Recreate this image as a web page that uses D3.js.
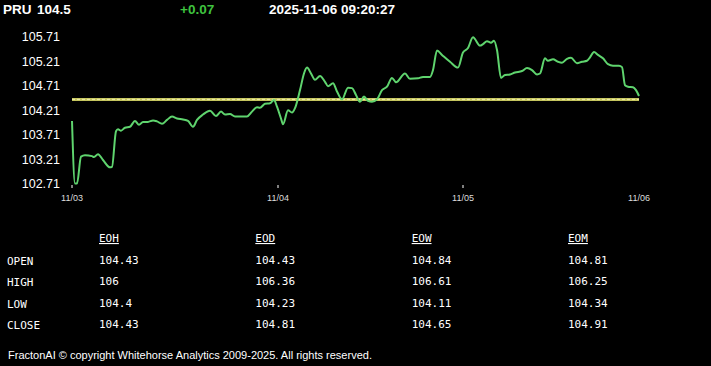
<!DOCTYPE html>
<html>
<head>
<meta charset="utf-8">
<script src="https://cdn.jsdelivr.net/npm/d3@7"></script>
<style>
  html, body { margin: 0; padding: 0; background: #000; }
  svg { display: block; }
</style>
</head>
<body>
<div id="chart"></div>
<script>
// header
const symbol = "PRU";
const lastPrice = "104.5";
const change = "+0.07";
const stamp = "2025-11-06 09:20:27";
const prevClose = 104.43;

// intraday samples (sample number, price)
const sampleIdx = [
  0, 3, 5, 9, 13, 20, 22, 26, 31, 38, 40, 44, 46, 49, 53, 58, 63, 67, 71, 76,
  81, 85, 90, 95, 100, 105, 111, 116, 121, 125, 131, 138, 144, 149, 153, 158, 163, 170, 175, 180,
  185, 188, 193, 198, 202, 205, 209, 211, 216, 220, 223, 228, 232, 235, 239, 243, 248, 253, 256, 261,
  265, 270, 276, 280, 284, 288, 292, 296, 300, 305, 310, 315, 320, 324, 333, 338, 346, 351, 358, 361,
  365, 370, 378, 386, 391, 396, 401, 408, 411, 415, 419, 422, 425, 429, 433, 438, 443, 450, 455, 460,
  465, 468, 473, 476, 481, 486, 490, 495, 499, 505, 510, 515, 518, 522, 526, 531, 536, 541, 547, 550,
  553, 556, 561, 564, 567
];
const prices = [
  103.99, 102.71, 102.71, 103.26, 103.29, 103.27, 103.25, 103.31, 103.19, 103.04, 103.05, 103.78, 103.82, 103.79, 103.85, 103.87, 103.99, 103.91, 103.97, 103.97,
  104.00, 103.98, 103.93, 104.01, 104.08, 104.04, 104.02, 103.99, 103.87, 104.01, 104.12, 104.20, 104.09, 104.18, 104.12, 104.13, 104.08, 104.08, 104.08, 104.18,
  104.27, 104.26, 104.34, 104.35, 104.42, 104.28, 104.04, 103.92, 104.21, 104.16, 104.25, 104.62, 104.96, 105.08, 104.96, 104.83, 104.91, 104.79, 104.70, 104.76,
  104.59, 104.43, 104.67, 104.66, 104.52, 104.38, 104.49, 104.40, 104.38, 104.43, 104.62, 104.69, 104.87, 104.78, 104.96, 104.85, 104.86, 104.89, 104.89, 105.03,
  105.43, 105.34, 105.20, 105.08, 105.39, 105.48, 105.70, 105.53, 105.56, 105.62, 105.59, 105.63, 105.44, 104.87, 104.93, 104.94, 104.98, 105.01, 105.07, 105.03,
  104.94, 104.96, 105.27, 105.22, 105.25, 105.20, 105.18, 105.26, 105.28, 105.17, 105.20, 105.22, 105.29, 105.40, 105.34, 105.27, 105.15, 105.12, 105.12, 105.09,
  104.72, 104.69, 104.68, 104.62, 104.50
];

// day labels on the x axis
const dayLabels = ["11/03", "11/04", "11/05", "11/06"];
const dayIdx = [0, 206, 391, 567];

// y tick labels
const yTicks = [102.71, 103.21, 103.71, 104.21, 104.71, 105.21, 105.71];

// summary table
const tableCols = ["EOH", "EOD", "EOW", "EOM"];
const tableRows = ["OPEN", "HIGH", "LOW", "CLOSE"];
const tableVals = [
  ["104.43", "104.43", "104.84", "104.81"],
  ["106", "106.36", "106.61", "106.25"],
  ["104.4", "104.23", "104.11", "104.34"],
  ["104.43", "104.81", "104.65", "104.91"]
];

const footer = "FractonAI \u00a9 copyright Whitehorse Analytics 2009-2025. All rights reserved.";

const width = 711, height = 366;
const svg = d3.select("#chart").append("svg")
  .attr("width", width)
  .attr("height", height)
  .style("background", "#000");

// header line
const head = svg.append("g")
  .attr("font-family", "'Liberation Sans Narrow', 'Arial Narrow', Arial, sans-serif")
  .attr("font-weight", "bold")
  .attr("font-size", 13.5);
head.append("text").attr("x", 3).attr("y", 14).attr("fill", "#fff").text(symbol);
head.append("text").attr("x", 37).attr("y", 14).attr("fill", "#fff").text(lastPrice);
head.append("text").attr("x", 180).attr("y", 14).attr("fill", "#3fc33f").text(change);
head.append("text").attr("x", 269).attr("y", 14).attr("fill", "#fff").text(stamp);

// scales
const x = d3.scaleLinear().domain([0, 567]).range([72, 639]);
const y = d3.scaleLinear().domain([102.71, 105.71]).range([183.5, 36.8]);

// y labels
svg.append("g")
  .selectAll("text")
  .data(yTicks)
  .join("text")
  .attr("x", 60)
  .attr("y", d => y(d))
  .attr("dy", "0.36em")
  .attr("text-anchor", "end")
  .attr("fill", "#fff")
  .attr("font-family", "Arial, 'Liberation Sans', sans-serif")
  .attr("font-size", 12.5)
  .text(d => d.toFixed(2));

// x ticks + labels
const xa = svg.append("g");
xa.selectAll("line")
  .data(dayIdx.slice(0, 3))
  .join("line")
  .attr("x1", d => x(d)).attr("x2", d => x(d))
  .attr("y1", 185).attr("y2", 188)
  .attr("stroke", "#fff")
  .attr("stroke-width", 1);
xa.selectAll("text")
  .data(dayIdx)
  .join("text")
  .attr("x", d => x(d))
  .attr("y", 201)
  .attr("text-anchor", "middle")
  .attr("fill", "#ddd")
  .attr("font-family", "Arial, 'Liberation Sans', sans-serif")
  .attr("font-size", 9)
  .text((d, i) => dayLabels[i]);

// previous close line
svg.append("line")
  .attr("x1", x(0)).attr("x2", x(567))
  .attr("y1", y(prevClose)).attr("y2", y(prevClose))
  .attr("stroke", "#c4c45e")
  .attr("stroke-width", 3);
svg.append("line")
  .attr("x1", x(0)).attr("x2", x(567))
  .attr("y1", y(prevClose)).attr("y2", y(prevClose))
  .attr("stroke", "#eeeeaa")
  .attr("stroke-width", 1)
  .attr("stroke-dasharray", "3,2");

// price line
const pts = sampleIdx.map((t, i) => [t, prices[i]]);
svg.append("path")
  .datum(pts)
  .attr("fill", "none")
  .attr("stroke", "#5fd46e")
  .attr("stroke-width", 2)
  .attr("stroke-linejoin", "round")
  .attr("d", d3.line()
    .x(d => x(d[0]))
    .y(d => y(d[1]))
    .curve(d3.curveMonotoneX));

// table
const colX = d3.scalePoint().domain(tableCols).range([99, 568]);
const rowY = d3.scalePoint().domain(["head"].concat(tableRows)).range([242, 328]);
const tbl = svg.append("g")
  .attr("font-family", "'DejaVu Sans Mono', monospace")
  .attr("font-size", 11)
  .attr("fill", "#fff");

tbl.selectAll(".colhead")
  .data(tableCols)
  .join("text")
  .attr("class", "colhead")
  .attr("x", d => colX(d))
  .attr("y", rowY("head"))
  .attr("text-decoration", "underline")
  .text(d => d);

tbl.selectAll(".rowhead")
  .data(tableRows)
  .join("text")
  .attr("class", "rowhead")
  .attr("x", 7)
  .attr("y", d => rowY(d) + 1)
  .text(d => d);

tableRows.forEach((r, i) => {
  tbl.selectAll(".cell-" + i)
    .data(tableVals[i])
    .join("text")
    .attr("class", "cell-" + i)
    .attr("x", (d, j) => colX(tableCols[j]))
    .attr("y", rowY(r))
    .text(d => d);
});

// footer
svg.append("text")
  .attr("x", 8)
  .attr("y", 359)
  .attr("fill", "#fff")
  .attr("font-family", "Arial, 'Liberation Sans', sans-serif")
  .attr("font-size", 11)
  .text(footer);
</script>
</body>
</html>
